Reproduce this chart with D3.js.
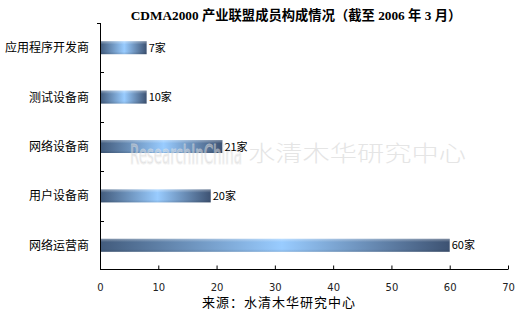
<!DOCTYPE html>
<html>
<head>
<meta charset="utf-8">
<script src="https://cdn.jsdelivr.net/npm/d3@7"></script>
<style>
  body { margin: 0; background: #fff; }
  svg { display: block; }
</style>
</head>
<body>
<div id="chart"></div>
<script>
// chart data
var categories = ["应用程序开发商", "测试设备商", "网络设备商", "用户设备商", "网络运营商"];
var barLengths = [8, 8, 21, 19, 60];     // bar lengths as drawn in the picture
var labelValues = [7, 10, 21, 20, 60];   // numbers printed next to the bars
var xTicks = [0, 10, 20, 30, 40, 50, 60, 70];
var titleText = "CDMA2000 产业联盟成员构成情况（截至 2006 年 3 月）";
var sourceText = "来源：水清木华研究中心";

var W = 530, H = 324;
var plotLeft = 100, plotRight = 508, plotTop = 23, plotBottom = 269;
var cjk = "'Noto Sans CJK SC', 'DejaVu Sans', sans-serif";

var svg = d3.select("#chart").append("svg")
    .attr("width", W)
    .attr("height", H);

var defs = svg.append("defs");
var grad = defs.append("linearGradient")
    .attr("id", "barGrad")
    .attr("x1", "0%").attr("x2", "100%")
    .attr("y1", "0%").attr("y2", "0%");
grad.append("stop").attr("offset", "0%").attr("stop-color", "#425b7c");
grad.append("stop").attr("offset", "52%").attr("stop-color", "#99ccff");
grad.append("stop").attr("offset", "100%").attr("stop-color", "#3d5272");

var shade = defs.append("linearGradient")
    .attr("id", "barShade")
    .attr("x1", "0%").attr("x2", "0%")
    .attr("y1", "0%").attr("y2", "100%");
shade.append("stop").attr("offset", "0%").attr("stop-color", "#fff").attr("stop-opacity", 0.35);
shade.append("stop").attr("offset", "25%").attr("stop-color", "#fff").attr("stop-opacity", 0);
shade.append("stop").attr("offset", "80%").attr("stop-color", "#000").attr("stop-opacity", 0);
shade.append("stop").attr("offset", "100%").attr("stop-color", "#000").attr("stop-opacity", 0.12);

var x = d3.scaleLinear().domain([0, 70]).range([plotLeft, plotRight]);
var y = d3.scaleBand().domain(categories).range([plotTop, plotBottom + 1]);
var barH = 13;

// title
svg.append("text")
    .attr("x", 296)
    .attr("y", 20)
    .attr("text-anchor", "middle")
    .style("font-family", "'Liberation Serif', 'Noto Sans CJK SC', serif")
    .style("font-weight", "bold")
    .style("font-size", "13.3px")
    .text(titleText);

// bars
var bars = svg.selectAll(".bar")
    .data(barLengths)
    .enter().append("g")
    .attr("class", "bar");
bars.append("rect")
    .attr("x", x(0))
    .attr("y", function (d, i) { return y(categories[i]) + y.bandwidth() / 2 - barH / 2; })
    .attr("width", function (d) { return x(d) - x(0); })
    .attr("height", barH)
    .style("fill", "url(#barGrad)");
bars.append("rect")
    .attr("x", x(0))
    .attr("y", function (d, i) { return y(categories[i]) + y.bandwidth() / 2 - barH / 2; })
    .attr("width", function (d) { return x(d) - x(0); })
    .attr("height", barH)
    .style("fill", "url(#barShade)");

// watermark
var wm = svg.append("g").style("opacity", 0.55);
wm.append("text")
    .attr("x", 130).attr("y", 164)
    .attr("textLength", 112)
    .attr("lengthAdjust", "spacingAndGlyphs")
    .style("font-family", "'DejaVu Sans Condensed', 'Liberation Sans Narrow', sans-serif")
    .style("font-size", "27px")
    .style("fill", "#c8c8c8")
    .style("stroke", "#e8e8e8")
    .text("ResearchInChina");
wm.append("text")
    .attr("x", 248).attr("y", 161)
    .attr("textLength", 218)
    .attr("lengthAdjust", "spacingAndGlyphs")
    .style("font-family", cjk)
    .style("font-size", "22px")
    .style("font-weight", "300")
    .style("fill", "#d0d0d0")
    .text("水清木华研究中心");

// value labels
svg.selectAll(".val")
    .data(labelValues)
    .enter().append("text")
    .attr("class", "val")
    .attr("x", function (d, i) { return x(barLengths[i]) + 2; })
    .attr("y", function (d, i) { return y(categories[i]) + y.bandwidth() / 2 + 4; })
    .style("font-family", cjk)
    .style("font-size", "11px")
    .text(function (d) { return d + "家"; });

// category labels
svg.selectAll(".cat")
    .data(categories)
    .enter().append("text")
    .attr("class", "cat")
    .attr("x", 89)
    .attr("y", function (d) { return y(d) + y.bandwidth() / 2 + 4.5; })
    .attr("text-anchor", "end")
    .style("font-family", cjk)
    .style("font-size", "12px")
    .text(function (d) { return d; });

// y axis line + ticks between categories
svg.append("line")
    .attr("x1", plotLeft + 0.5).attr("x2", plotLeft + 0.5)
    .attr("y1", plotTop).attr("y2", plotBottom)
    .style("stroke", "#000");
svg.append("line")
    .attr("x1", plotLeft - 3).attr("x2", plotLeft + 0.5)
    .attr("y1", plotTop + 0.5).attr("y2", plotTop + 0.5)
    .style("stroke", "#000");
svg.selectAll(".ytick")
    .data(categories.slice(1))
    .enter().append("line")
    .attr("class", "ytick")
    .attr("x1", plotLeft).attr("x2", plotLeft + 4)
    .attr("y1", function (d) { return Math.round(y(d)) + 0.5; })
    .attr("y2", function (d) { return Math.round(y(d)) + 0.5; })
    .style("stroke", "#000");

// x axis
var xAxis = d3.axisBottom(x).tickValues(xTicks).tickSize(-4).tickPadding(14);
var gx = svg.append("g")
    .attr("transform", "translate(0," + (plotBottom + 0.5) + ")")
    .call(xAxis);
gx.select(".domain").attr("d", "M" + plotLeft + ",0H" + plotRight).style("stroke", "#000");
gx.selectAll(".tick line").style("stroke", "#000");
gx.selectAll(".tick text")
    .style("font-family", "'DejaVu Sans', sans-serif")
    .style("font-size", "10px")
    .style("fill", "#222");

// source
svg.append("text")
    .attr("x", 202)
    .attr("y", 307)
    .attr("textLength", 153)
    .style("font-family", cjk)
    .style("font-size", "13px")
    .text(sourceText);
</script>
</body>
</html>
